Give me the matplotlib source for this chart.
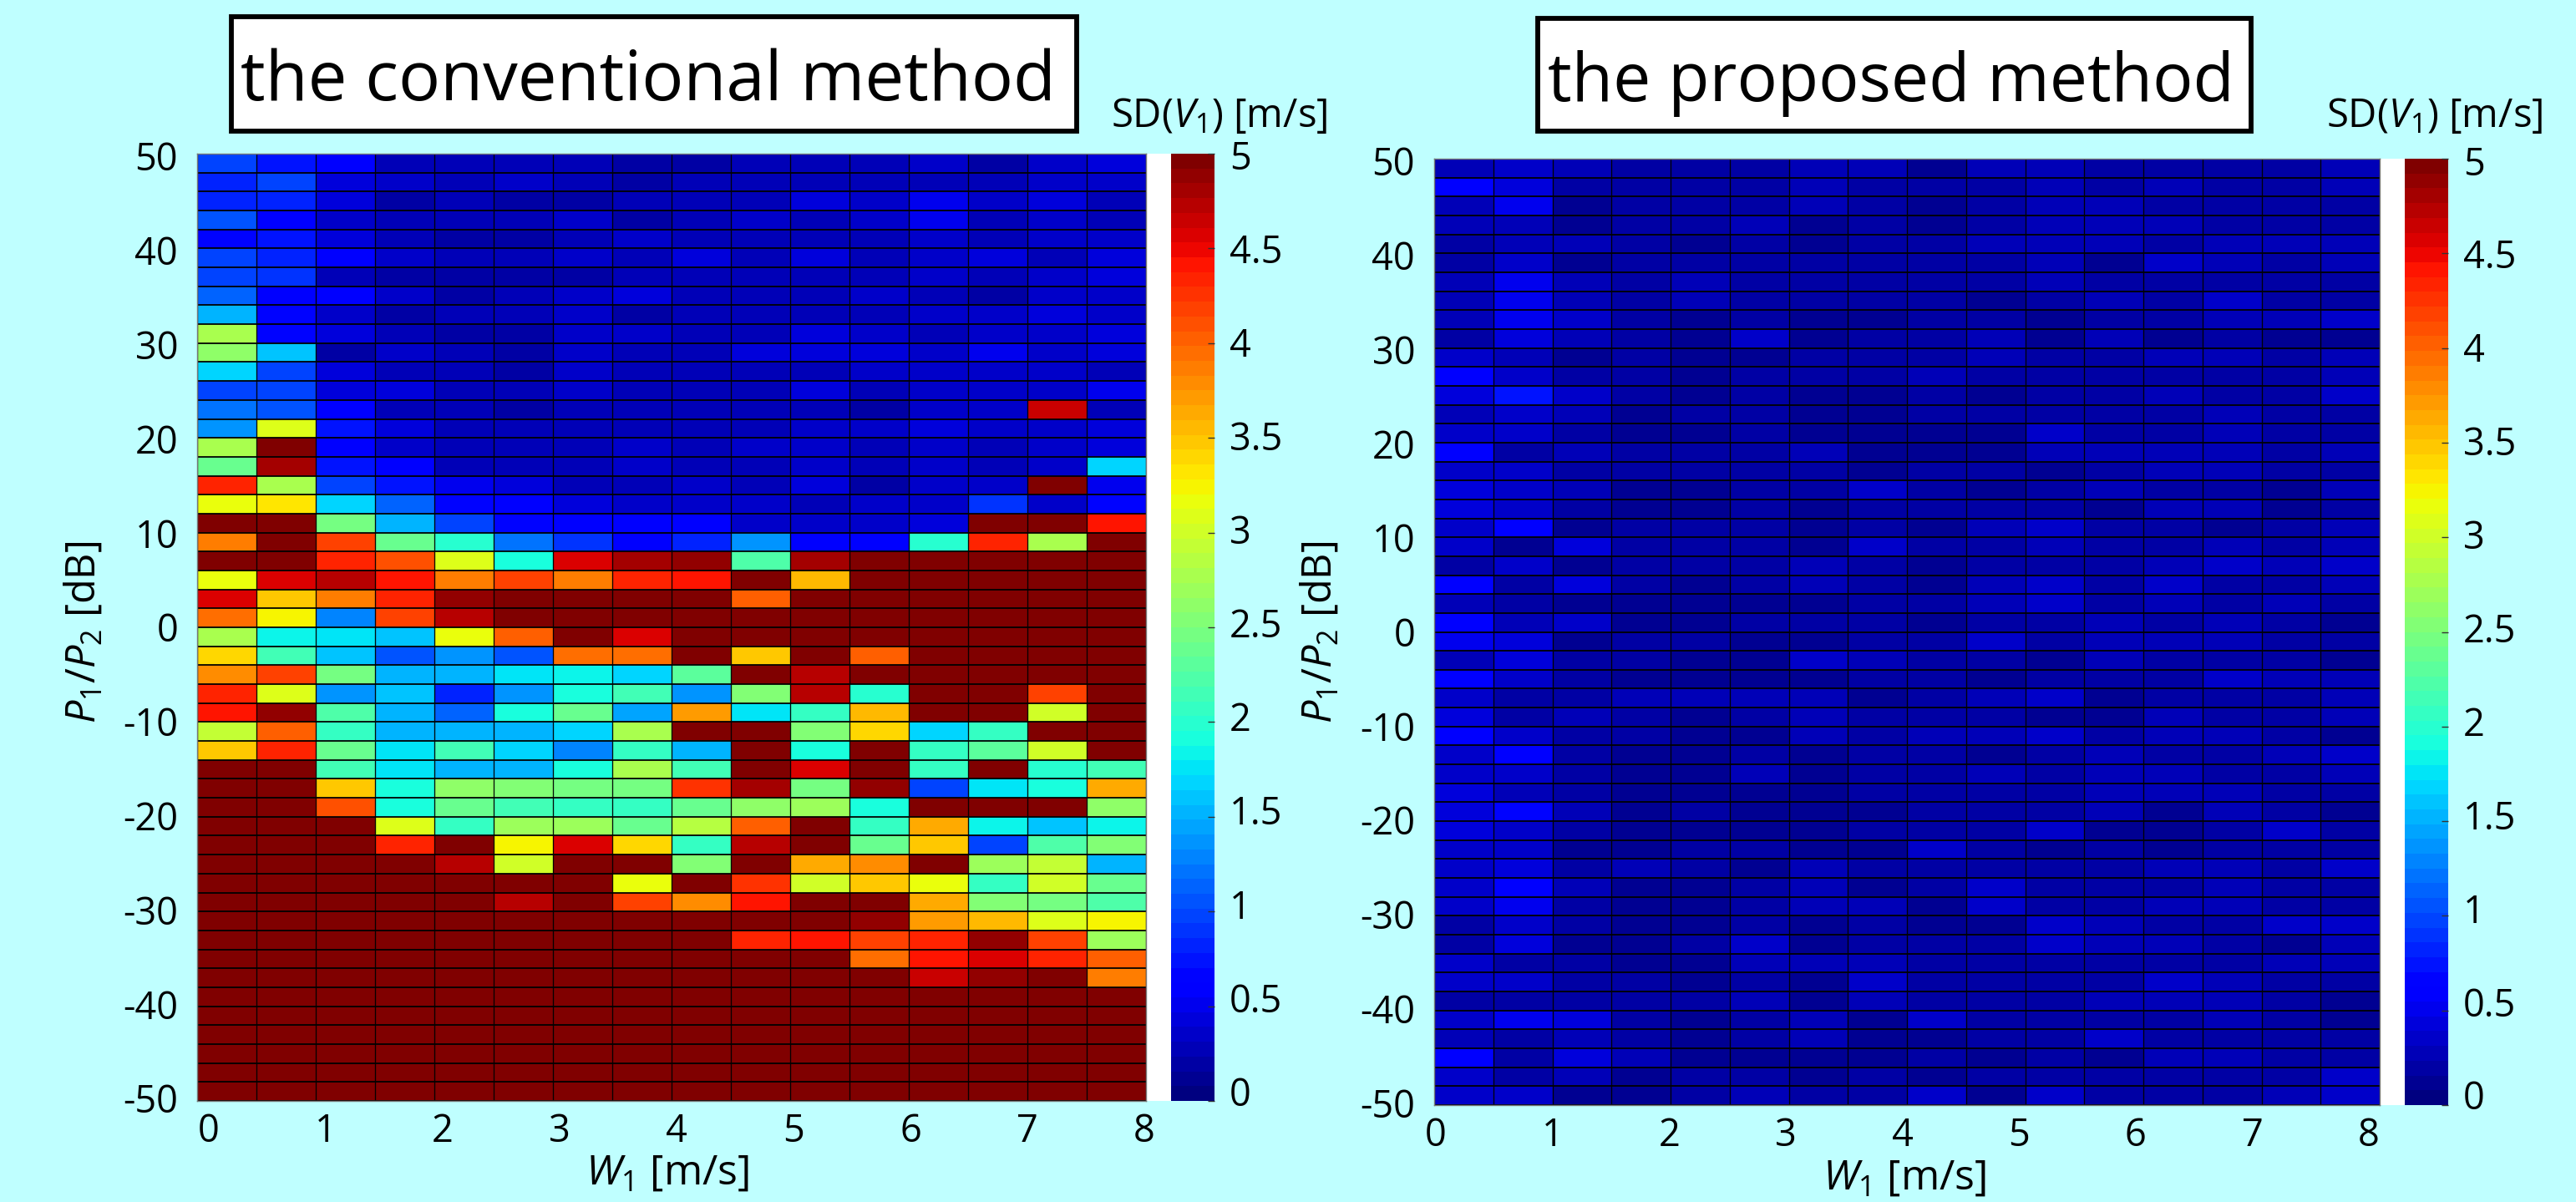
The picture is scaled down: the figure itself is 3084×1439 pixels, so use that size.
import numpy as np
import matplotlib
matplotlib.use("Agg")
import matplotlib.pyplot as plt
from matplotlib.patches import Rectangle
from matplotlib.transforms import ScaledTranslation

plt.rcParams.update({
    "font.family": "Open Sans",
    "mathtext.fontset": "custom",
    "mathtext.rm": "Open Sans",
    "mathtext.it": "Open Sans:italic",
    "axes.unicode_minus": False,
})

W, H = 3084, 1439
BG = "#BFFFFF"

# Standard deviation, rows listed from P1/P2 = 50 dB downward
conventional = [
 [1.0,.72,.55,.27,.3,.3,.3,.22,.22,.3,.3,.25,.35,.2,.33,.42],
 [.82,.95,.42,.38,.3,.33,.24,.2,.28,.3,.3,.27,.27,.24,.33,.33],
 [.82,.8,.4,.2,.3,.2,.22,.3,.27,.27,.42,.36,.5,.36,.42,.3],
 [1.05,.55,.38,.27,.3,.3,.33,.2,.27,.38,.3,.36,.5,.24,.32,.3],
 [.7,.75,.4,.27,.22,.2,.3,.33,.27,.3,.3,.27,.36,.25,.33,.33],
 [.95,.8,.55,.38,.27,.3,.33,.3,.4,.3,.42,.27,.36,.4,.26,.42],
 [.95,.92,.3,.22,.22,.22,.22,.3,.3,.27,.3,.27,.35,.25,.33,.42],
 [1.15,.6,.55,.38,.2,.3,.33,.42,.3,.3,.3,.38,.24,.22,.38,.38],
 [1.55,.65,.33,.2,.27,.3,.33,.2,.3,.28,.27,.27,.38,.38,.42,.33],
 [2.8,.68,.42,.3,.22,.2,.33,.33,.3,.3,.4,.38,.24,.38,.38,.42],
 [2.6,1.58,.22,.38,.3,.2,.33,.3,.3,.42,.42,.4,.38,.48,.32,.42],
 [1.65,.95,.42,.3,.3,.2,.33,.27,.27,.3,.27,.36,.38,.38,.33,.24],
 [.95,.95,.42,.4,.3,.3,.33,.3,.3,.3,.42,.3,.38,.38,.35,.52],
 [1.2,1.05,.55,.25,.27,.18,.27,.27,.27,.27,.27,.22,.35,.33,4.65,.3],
 [1.35,3.1,.72,.42,.27,.25,.27,.25,.25,.27,.38,.36,.42,.33,.33,.42],
 [2.8,5,.55,.35,.27,.25,.27,.33,.27,.33,.38,.27,.33,.3,.33,.4],
 [2.35,4.8,.72,.6,.3,.3,.24,.33,.3,.24,.33,.3,.33,.3,.33,1.65],
 [4.3,2.75,1.0,.75,.5,.42,.3,.3,.38,.3,.42,.22,.38,.38,5,.48],
 [3.2,3.35,1.7,1.15,.7,.55,.4,.38,.38,.38,.3,.38,.38,.92,.35,.7],
 [5,5,2.45,1.5,.95,.7,.55,.58,.58,.38,.38,.38,.4,5,5,4.45],
 [3.85,5,4.2,2.4,2.0,1.2,.92,.58,.8,1.4,.55,.55,2.0,4.35,2.75,5],
 [5,5,4.3,4.1,3.05,1.95,4.6,4.8,4.85,2.25,4.78,5,5,5,5,5],
 [3.15,4.6,4.75,4.45,3.85,4.2,3.85,4.35,4.45,5,3.55,5,5,5,5,5],
 [4.6,3.45,3.85,4.35,4.85,5,5,5,5,4.05,5,5,5,5,5,5],
 [3.95,3.25,1.25,4.2,4.75,5,5,5,5,5,5,5,5,5,5,5],
 [2.75,1.85,1.75,1.6,3.2,4.05,5,4.6,5,5,5,5,5,5,5,5],
 [3.4,2.15,1.6,1.05,1.4,1.05,3.95,3.95,5,3.5,5,4.0,5,5,5,5],
 [3.8,4.15,2.45,1.55,1.55,1.75,1.8,1.7,2.3,5,4.75,5,5,5,5,5],
 [4.3,3.1,1.4,1.6,.8,1.4,1.95,2.15,1.4,2.55,4.75,2.0,5,5,4.15,5],
 [4.4,4.85,2.25,1.5,1.15,1.95,2.4,1.45,3.7,1.75,2.1,3.55,5,5,3.0,5],
 [2.95,4.0,2.05,1.55,1.55,1.55,1.7,2.8,5,5,2.55,3.4,1.7,2.05,5,5],
 [3.45,4.35,2.4,1.75,2.15,1.7,1.3,2.1,1.55,5,1.95,5,2.1,2.3,3.0,5],
 [5,5,2.15,1.75,1.5,1.55,1.95,2.8,2.15,5,4.6,5,2.05,5,2.0,2.15],
 [5,5,3.45,1.9,2.65,2.55,2.45,2.45,4.25,4.8,2.45,4.85,.95,1.75,1.95,3.65],
 [5,4.95,4.1,1.95,2.4,2.15,2.1,2.05,2.4,2.65,2.7,1.95,5,5,5,2.65],
 [5,5,5,3.05,2.1,2.7,2.7,2.35,2.85,4.05,5,2.05,3.6,1.8,1.6,1.85],
 [5,5,5,4.35,5,3.25,4.6,3.4,2.05,4.75,5,2.4,3.45,.95,2.2,2.55],
 [5,5,5,5,4.75,3.0,5,5,2.55,5,3.6,3.75,5,2.7,2.95,1.55],
 [5,5,5,5,5,5,5,3.15,5,4.25,3.0,3.45,3.2,2.1,3.0,2.35],
 [5,5,5,5,5,4.75,5,4.2,3.8,4.4,5,5,3.6,2.5,2.45,2.2],
 [5,5,5,5,5,5,5,5,5,5,5,4.85,3.7,3.55,3.1,3.25],
 [5,5,5,5,5,5,5,5,5,4.3,4.45,4.15,4.35,4.85,4.15,2.7],
 [5,5,5,5,5,5,5,5,5,5,5,3.95,4.45,4.6,4.3,4.0],
 [5,5,5,5,5,5,5,5,5,5,5,5,4.65,4.85,5,3.9],
 [5]*16, [5]*16, [5]*16, [5]*16, [5]*16, [5]*16,
]

proposed = [
 [.25,.38,.27,.18,.16,.16,.25,.3,.14,.25,.3,.22,.22,.2,.2,.25],
 [.55,.42,.22,.2,.22,.2,.25,.22,.2,.22,.3,.2,.27,.2,.2,.25],
 [.25,.5,.08,.22,.18,.17,.25,.18,.14,.22,.25,.3,.2,.17,.17,.2],
 [.3,.3,.14,.16,.22,.3,.14,.16,.12,.22,.3,.27,.27,.2,.2,.18],
 [.22,.25,.3,.16,.14,.22,.14,.22,.22,.27,.3,.27,.2,.25,.25,.25],
 [.2,.38,.14,.2,.16,.22,.22,.22,.2,.22,.3,.1,.38,.27,.22,.25],
 [.27,.5,.3,.17,.3,.2,.17,.17,.2,.22,.3,.2,.2,.2,.18,.17],
 [.3,.5,.3,.16,.3,.22,.16,.22,.2,.15,.22,.28,.2,.35,.22,.17],
 [.3,.5,.38,.2,.14,.17,.14,.14,.22,.22,.12,.22,.22,.27,.27,.35],
 [.22,.42,.3,.22,.14,.33,.14,.2,.22,.3,.14,.3,.14,.2,.14,.1],
 [.38,.3,.12,.2,.14,.14,.22,.22,.2,.3,.22,.2,.27,.28,.2,.25],
 [.55,.38,.17,.2,.13,.2,.22,.22,.3,.2,.22,.17,.2,.17,.22,.25],
 [.45,.72,.38,.16,.13,.22,.14,.14,.22,.15,.22,.2,.27,.17,.17,.32],
 [.25,.38,.27,.15,.22,.17,.14,.14,.22,.17,.22,.2,.2,.25,.22,.22],
 [.38,.32,.2,.13,.12,.2,.12,.13,.1,.12,.33,.22,.2,.25,.22,.22],
 [.55,.17,.27,.22,.22,.22,.25,.12,.1,.12,.25,.3,.27,.25,.22,.25],
 [.38,.38,.22,.22,.22,.22,.22,.14,.22,.22,.15,.2,.25,.25,.2,.17],
 [.42,.38,.3,.14,.13,.22,.22,.33,.22,.12,.22,.3,.2,.2,.15,.25],
 [.45,.38,.22,.13,.13,.22,.13,.22,.2,.22,.22,.1,.28,.3,.12,.18],
 [.36,.55,.14,.2,.16,.22,.14,.22,.12,.3,.32,.2,.2,.13,.17,.25],
 [.38,.14,.42,.22,.17,.17,.13,.33,.22,.22,.3,.2,.2,.27,.2,.25],
 [.22,.33,.14,.16,.17,.16,.27,.2,.12,.22,.2,.16,.3,.38,.25,.35],
 [.55,.17,.42,.17,.14,.16,.25,.2,.12,.3,.32,.2,.38,.17,.22,.25],
 [.3,.2,.13,.14,.15,.15,.13,.22,.2,.3,.32,.18,.27,.22,.25,.17],
 [.55,.3,.36,.14,.13,.22,.22,.22,.1,.22,.2,.3,.22,.27,.17,.1],
 [.5,.42,.15,.22,.22,.13,.11,.22,.2,.33,.22,.3,.27,.27,.22,.17],
 [.3,.45,.22,.22,.15,.13,.36,.25,.22,.2,.12,.3,.22,.2,.2,.15],
 [.62,.35,.2,.14,.14,.14,.12,.2,.2,.13,.22,.2,.2,.37,.27,.25],
 [.38,.17,.22,.25,.25,.25,.25,.12,.2,.3,.35,.15,.2,.18,.2,.25],
 [.42,.22,.25,.16,.14,.2,.27,.22,.2,.2,.12,.1,.27,.2,.2,.25],
 [.55,.38,.22,.22,.14,.13,.25,.22,.3,.3,.33,.18,.27,.27,.22,.1],
 [.38,.55,.22,.14,.14,.22,.13,.22,.22,.14,.22,.3,.22,.17,.25,.33],
 [.38,.32,.2,.14,.14,.25,.12,.22,.22,.3,.22,.3,.27,.22,.22,.25],
 [.45,.3,.22,.14,.13,.14,.12,.22,.22,.22,.22,.3,.27,.27,.22,.17],
 [.42,.68,.3,.14,.16,.14,.14,.13,.22,.22,.22,.28,.15,.25,.22,.14],
 [.42,.32,.22,.14,.13,.13,.13,.2,.22,.2,.32,.12,.15,.2,.33,.22],
 [.33,.33,.13,.14,.22,.2,.14,.14,.33,.22,.12,.2,.12,.2,.2,.16],
 [.35,.4,.22,.25,.22,.14,.25,.22,.22,.22,.2,.22,.27,.27,.17,.33],
 [.38,.55,.25,.14,.14,.22,.25,.13,.22,.32,.2,.2,.2,.27,.2,.16],
 [.35,.52,.22,.13,.12,.22,.25,.25,.13,.33,.22,.2,.3,.27,.2,.18],
 [.22,.35,.22,.13,.11,.22,.13,.22,.13,.12,.32,.3,.22,.2,.33,.38],
 [.22,.42,.12,.13,.2,.32,.14,.2,.22,.2,.32,.3,.27,.2,.15,.3],
 [.32,.22,.22,.12,.12,.25,.25,.25,.22,.22,.22,.2,.2,.18,.27,.3],
 [.32,.33,.22,.2,.13,.22,.14,.33,.22,.22,.22,.2,.36,.27,.22,.17],
 [.22,.22,.22,.22,.2,.25,.14,.25,.22,.2,.22,.3,.27,.27,.2,.11],
 [.38,.52,.45,.22,.13,.22,.25,.15,.33,.22,.22,.2,.22,.27,.22,.1],
 [.3,.2,.25,.2,.12,.22,.25,.14,.13,.22,.22,.32,.2,.22,.22,.16],
 [.55,.22,.42,.25,.13,.13,.14,.14,.22,.14,.22,.1,.3,.27,.22,.22],
 [.35,.22,.3,.12,.2,.2,.14,.22,.13,.22,.22,.2,.2,.2,.2,.32],
 [.33,.33,.12,.14,.22,.25,.22,.22,.33,.13,.33,.22,.2,.17,.25,.35],
]

x_ticks = [0, 1, 2, 3, 4, 5, 6, 7, 8]
y_ticks = [50, 40, 30, 20, 10, 0, -10, -20, -30, -40, -50]
cbar_ticks = [0, .5, 1, 1.5, 2, 2.5, 3, 3.5, 4, 4.5, 5]
cbar_labels = ["0", "0.5", "1", "1.5", "2", "2.5", "3", "3.5", "4", "4.5", "5"]
titles = ["the conventional method", "the proposed method"]
cbar_title = r"SD($V_1$) [m/s]"
xlabel = r"$W_1$ [m/s]"
ylabel = r"$P_1/P_2$ [dB]"

x_edges = np.linspace(0, 8, 17)
y_edges = np.linspace(50, -50, 51)
cmap = plt.get_cmap("jet", 64)
TICK_FS = 32.5


def fr(x, y):
    return x / W, 1 - y / H


def ax_px(fig, l, t, r, b):
    a = fig.add_axes([l / W, 1 - b / H, (r - l) / W, (b - t) / H])
    a.set_zorder(1)
    return a


def shift(label, fig, dx=0, dy=0):
    label.set_transform(label.get_transform() +
                        ScaledTranslation(dx / 100, dy / 100, fig.dpi_scale_trans))


fig = plt.figure(figsize=(W / 100, H / 100), dpi=100, facecolor=BG)

panels = [
    dict(data=conventional, box=(236, 184, 1372, 1318), cbar=(1402, 1454),
         title_box=(277, 20, 1289, 157), cb_title_x=1460, xl=(799, 1405), yl=(101, 757),
         dx0=14, dx1=-2, title_fs=60, title_dx=-7),
    dict(data=proposed, box=(1717, 190, 2849, 1323), cbar=(2879, 2931),
         title_box=(1841, 22, 2695, 157), cb_title_x=2915, xl=(2280, 1411), yl=(1581, 757),
         dx0=2, dx1=-13, title_fs=58, title_dx=-4),
]

for p, title in zip(panels, titles):
    l, t, r, b = p["box"]
    # white backing behind the plot and colorbar
    fig.patches.append(Rectangle((l / W, 1 - b / H), (p["cbar"][0] - l) / W, (b - t) / H,
                                 transform=fig.transFigure, fc="white", ec="none", zorder=0))
    ax = ax_px(fig, l, t, r, b)
    mesh = ax.pcolormesh(x_edges, y_edges, np.array(p["data"]), cmap=cmap, vmin=0, vmax=5,
                         edgecolors="none", antialiased=False)
    ax.hlines(y_edges, 0, 8, color="black", lw=1.35, alpha=.95)
    ax.vlines(x_edges, -50, 50, color="black", lw=0.95, alpha=.95)
    ax.set_xlim(0, 8)
    ax.set_ylim(-50, 50)
    ax.set_xticks(x_ticks)
    ax.set_yticks(y_ticks)
    ax.set_xticklabels([str(v) for v in x_ticks])
    ax.set_yticklabels([str(v) for v in y_ticks])
    ax.tick_params(axis="x", length=0, pad=10, labelsize=TICK_FS)
    ax.tick_params(axis="y", length=0, pad=16.5, labelsize=TICK_FS)
    for s in ax.spines.values():
        s.set_color("#777777")
        s.set_linewidth(1.0)
    for v, lab in zip(x_ticks, ax.get_xticklabels()):
        shift(lab, fig, dx=p["dx0"] + (p["dx1"] - p["dx0"]) * v / 8)
    for v, lab in zip(y_ticks, ax.get_yticklabels()):
        shift(lab, fig, dy=-3 + 6 * (50 - v) / 100)

    ax.set_xlabel(xlabel, fontsize=36)
    ax.xaxis.set_label_coords(*fr(*p["xl"]), transform=fig.transFigure)
    ax.xaxis.label.set_va("center")
    ax.set_ylabel(ylabel, fontsize=35)
    ax.yaxis.set_label_coords(*fr(*p["yl"]), transform=fig.transFigure)
    ax.yaxis.label.set_va("center")

    c0, c1 = p["cbar"]
    cax = ax_px(fig, c0, t, c1, b)
    cb = fig.colorbar(mesh, cax=cax)
    cb.set_ticks(cbar_ticks)
    cb.set_ticklabels(cbar_labels)
    cax.tick_params(axis="y", direction="in", length=5.5, width=1, color="#333333",
                    pad=13, labelsize=TICK_FS)
    cb.outline.set_visible(False)
    for v, lab in zip(cbar_ticks, cax.get_yticklabels()):
        shift(lab, fig, dy=12 - 14 * v / 5)

    tl, tt, tr, tb = p["title_box"]
    fig.patches.append(Rectangle((tl / W, 1 - tb / H), (tr - tl) / W, (tb - tt) / H,
                                 transform=fig.transFigure, fc="white", ec="black", lw=4.2,
                                 zorder=0.5))
    fig.text(((tl + tr) / 2 + p["title_dx"]) / W, 1 - ((tt + tb) / 2 + 10) / H, title,
             ha="center", va="center", fontsize=p["title_fs"], color="black", zorder=4)
    fig.text(p["cb_title_x"] / W, 1 - 139 / H, cbar_title, ha="center", va="center",
             fontsize=34, color="black", zorder=4)

fig.savefig("out.png", dpi=100, facecolor=BG)
